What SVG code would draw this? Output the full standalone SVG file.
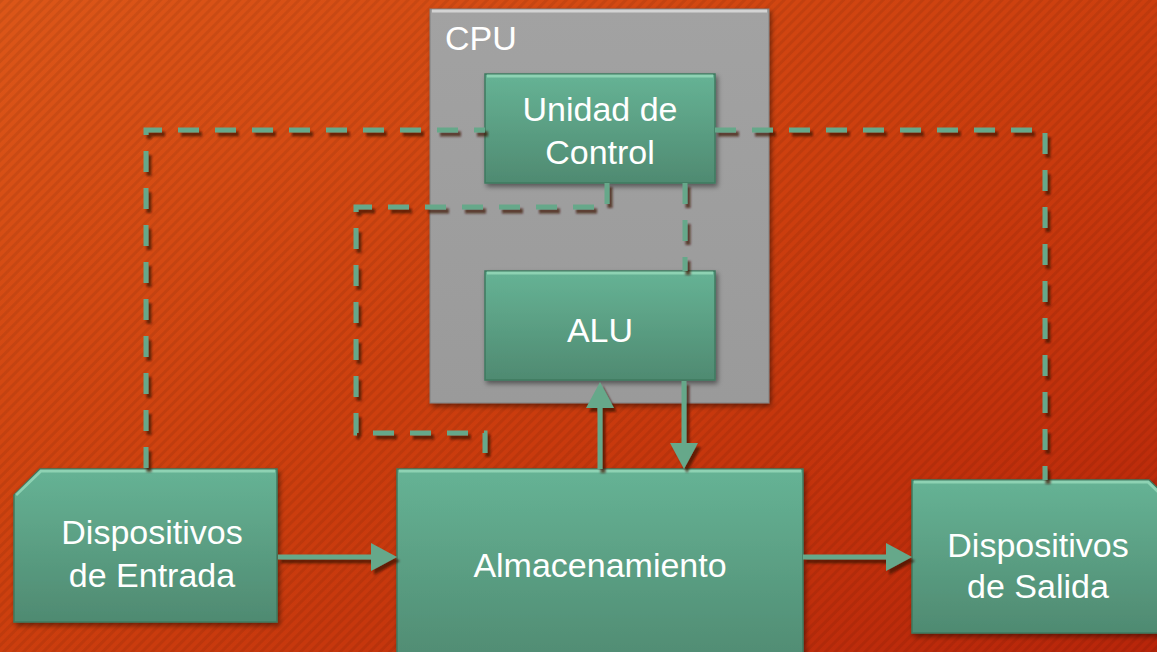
<svg xmlns="http://www.w3.org/2000/svg" width="1157" height="652" viewBox="0 0 1157 652">
<defs>
<linearGradient id="bg" x1="0" y1="0" x2="1" y2="1">
<stop offset="0" stop-color="#dc5618"/>
<stop offset="0.5" stop-color="#cc3e0e"/>
<stop offset="1" stop-color="#b8250a"/>
</linearGradient>
<pattern id="stripes" width="7" height="7" patternUnits="userSpaceOnUse" patternTransform="rotate(45)">
<rect width="3" height="7" fill="#000" fill-opacity="0.07"/>
</pattern>
<linearGradient id="green" x1="0" y1="0" x2="0" y2="1">
<stop offset="0" stop-color="#66b395"/>
<stop offset="1" stop-color="#4f8a71"/>
</linearGradient>
<linearGradient id="gray" x1="0" y1="0" x2="0" y2="1">
<stop offset="0" stop-color="#a2a2a2"/>
<stop offset="1" stop-color="#9a9a9a"/>
</linearGradient>
<filter id="boxShadow" x="-10%" y="-10%" width="125%" height="125%">
<feDropShadow dx="2" dy="3" stdDeviation="2.5" flood-color="#000" flood-opacity="0.45"/>
</filter>
<filter id="lineShadow" x="-5%" y="-5%" width="115%" height="115%">
<feDropShadow dx="3" dy="4" stdDeviation="0.8" flood-color="#3a0800" flood-opacity="0.7"/>
</filter>
<marker id="arrow" markerUnits="userSpaceOnUse" markerWidth="26" markerHeight="28" refX="0" refY="14" orient="auto" viewBox="0 0 26 28">
<path d="M0,0 L26,14 L0,28 Z" fill="#66a88a"/>
</marker>
<style>
.node{fill:url(#green);stroke:#3f7a60;stroke-width:1.5;filter:url(#boxShadow)}
.hl{fill:none;stroke:#9fe0c0;stroke-width:3;stroke-opacity:0.7}
.lbl{font-family:"Liberation Sans",Arial,sans-serif;font-size:34px;fill:#ffffff;text-anchor:middle}
.dash{fill:none;stroke:#66a88a;stroke-width:5;stroke-dasharray:21 16}
.solid{fill:none;stroke:#66a88a;stroke-width:5}
</style>
</defs>
<rect width="1157" height="652" fill="url(#bg)"/>
<rect width="1157" height="652" fill="url(#stripes)"/>

<g id="cpu">
<rect x="430" y="9" width="339" height="394" fill="url(#gray)" stroke="#808080" stroke-width="1" filter="url(#boxShadow)"/>
<path d="M432,11 H767" stroke="#e0e0e0" stroke-width="3" stroke-opacity="0.8" fill="none"/>
<text x="445" y="50" class="lbl" style="text-anchor:start">CPU</text>
</g>

<g id="unidad-control">
<rect x="485" y="74" width="230" height="109" class="node"/>
<path d="M487,76 H713" class="hl"/>
<text x="600" y="121" class="lbl">Unidad de</text>
<text x="600" y="164" class="lbl">Control</text>
</g>

<g id="alu">
<rect x="485" y="271" width="230" height="109" class="node"/>
<path d="M487,273 H713" class="hl"/>
<text x="600" y="342" class="lbl">ALU</text>
</g>

<g id="entrada">
<polygon points="40,469 277,469 277,622 14,622 14,495" class="node"/>
<path d="M16,495 L41,471 H275" class="hl"/>
<text x="152" y="544" class="lbl">Dispositivos</text>
<text x="152" y="587" class="lbl">de Entrada</text>
</g>

<g id="almacenamiento">
<rect x="397" y="469" width="406" height="200" class="node"/>
<path d="M399,471 H801" class="hl"/>
<text x="600" y="577" class="lbl">Almacenamiento</text>
</g>

<g id="salida">
<polygon points="912,480 1149,480 1176,506 1176,633 912,633" class="node"/>
<path d="M914,482 H1148 L1172,505" class="hl"/>
<text x="1038" y="557" class="lbl">Dispositivos</text>
<text x="1038" y="598" class="lbl">de Salida</text>
</g>

<g id="connectors" filter="url(#lineShadow)">
<path d="M146,468 V130 H485" class="dash"/>
<path d="M715,130 H1045 V480" class="dash"/>
<path d="M607,183 V207 H356 V433 H485 V469" class="dash"/>
<path d="M685,183 V271" class="dash"/>
<path d="M600,469 V408" class="solid" marker-end="url(#arrow)"/>
<path d="M684,381 V443" class="solid" marker-end="url(#arrow)"/>
<path d="M278,557 H371" class="solid" marker-end="url(#arrow)"/>
<path d="M803,557 H886" class="solid" marker-end="url(#arrow)"/>
</g>
</svg>
